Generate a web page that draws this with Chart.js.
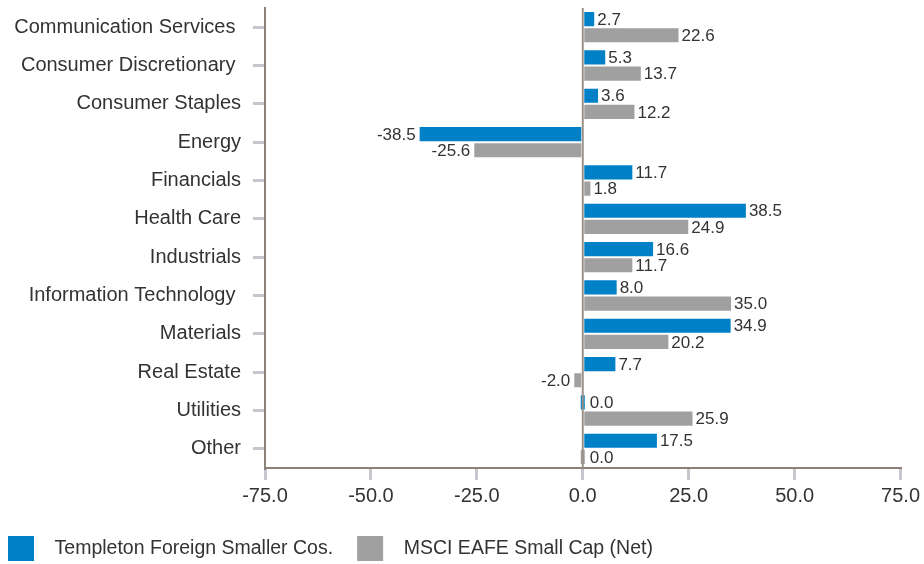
<!DOCTYPE html>
<html>
<head>
<meta charset="utf-8">
<script src="https://cdn.jsdelivr.net/npm/chart.js@4.4.1/dist/chart.umd.min.js"></script>
<style>
  html, body { margin: 0; padding: 0; background: #fff; }
  #wrap { width: 924px; height: 564px; position: relative; }
</style>
</head>
<body>
<div id="wrap"><canvas id="chart"></canvas></div>
<script>
const sectors = [
  'Communication Services ', 'Consumer Discretionary ', 'Consumer Staples', 'Energy',
  'Financials', 'Health Care', 'Industrials', 'Information Technology ',
  'Materials', 'Real Estate', 'Utilities', 'Other'
];
const fundValues = [2.7, 5.3, 3.6, -38.5, 11.7, 38.5, 16.6, 8.0, 34.9, 7.7, 0.0, 17.5];
const indexValues = [22.6, 13.7, 12.2, -25.6, 1.8, 24.9, 11.7, 35.0, 20.2, -2.0, 25.9, 0.0];
const seriesNames = ['Templeton Foreign Smaller Cos.', 'MSCI EAFE Small Cap (Net)'];
const xTicks = [-75, -50, -25, 0, 25, 50, 75];

const textColor = '#333333';
const axisColor = '#8c8179';
const tickColor = '#c4c8cc';
const fontFam = '"Liberation Sans", Arial, sans-serif';

// zero line + value labels beside each bar
const barLabels = {
  id: 'barLabels',
  afterDatasetsDraw(chart) {
    const ctx = chart.ctx;
    const xs = chart.scales.x;
    const area = chart.chartArea;
    const x0 = xs.getPixelForValue(0);
    ctx.save();
    ctx.strokeStyle = '#9a918b';
    ctx.lineWidth = 2;
    ctx.beginPath();
    ctx.moveTo(x0, area.top);
    ctx.lineTo(x0, area.bottom);
    ctx.stroke();

    ctx.font = '17px ' + fontFam;
    ctx.fillStyle = textColor;
    ctx.textBaseline = 'middle';
    chart.data.datasets.forEach((ds, i) => {
      const meta = chart.getDatasetMeta(i);
      meta.data.forEach((bar, j) => {
        const v = ds.data[j];
        const txt = v.toFixed(1);
        if (v < 0) {
          ctx.textAlign = 'right';
          ctx.fillText(txt, Math.min(bar.x, bar.base) - 4, bar.y + 1);
        } else {
          ctx.textAlign = 'left';
          ctx.fillText(txt, Math.max(bar.x, bar.base + 2) + 3, bar.y + 1);
        }
      });
    });
    ctx.restore();
  }
};

new Chart(document.getElementById('chart'), {
  type: 'bar',
  data: {
    labels: sectors,
    datasets: [
      {
        label: seriesNames[0],
        data: fundValues,
        backgroundColor: '#0080c6',
        minBarLength: 4
      },
      {
        label: seriesNames[1],
        data: indexValues,
        backgroundColor: '#a0a0a0',
        minBarLength: 4
      }
    ]
  },
  plugins: [barLabels],
  options: {
    indexAxis: 'y',
    responsive: true,
    maintainAspectRatio: false,
    animation: false,
    datasets: {
      bar: {
        categoryPercentage: 0.84,
        barPercentage: 0.88
      }
    },
    layout: {
      padding: { top: 8, left: -16, right: -2, bottom: -7 }
    },
    scales: {
      x: {
        min: -75,
        max: 75,
        afterBuildTicks: (scale) => {
          scale.ticks = xTicks.map(v => ({ value: v }));
        },
        ticks: {
          callback: (v) => Number(v).toFixed(1),
          color: textColor,
          font: { size: 20, family: fontFam },
          padding: 4,
          maxRotation: 0
        },
        grid: {
          drawOnChartArea: false,
          drawTicks: true,
          tickLength: 12,
          color: tickColor,
          lineWidth: 3
        },
        border: { color: axisColor, width: 2 }
      },
      y: {
        afterFit: (scale) => {
          scale.width = 281;
          scale.paddingTop = 0;
          scale.paddingBottom = 0;
        },
        ticks: {
          color: textColor,
          font: { size: 20, family: fontFam },
          padding: 12
        },
        grid: {
          offset: false,
          drawOnChartArea: false,
          drawTicks: true,
          tickLength: 12,
          color: tickColor,
          lineWidth: 3
        },
        border: { color: axisColor, width: 2 }
      }
    },
    plugins: {
      tooltip: { enabled: false },
      legend: {
        position: 'bottom',
        align: 'start',
        labels: {
          boxWidth: 26,
          boxHeight: 25,
          padding: 24,
          color: textColor,
          font: { size: 19.5, family: fontFam },
          // a little extra room between swatch and text, as in the original
          generateLabels: (chart) =>
            Chart.defaults.plugins.legend.labels.generateLabels(chart)
              .map(item => Object.assign(item, { text: '  ' + item.text }))
        }
      }
    }
  }
});
</script>
</body>
</html>
